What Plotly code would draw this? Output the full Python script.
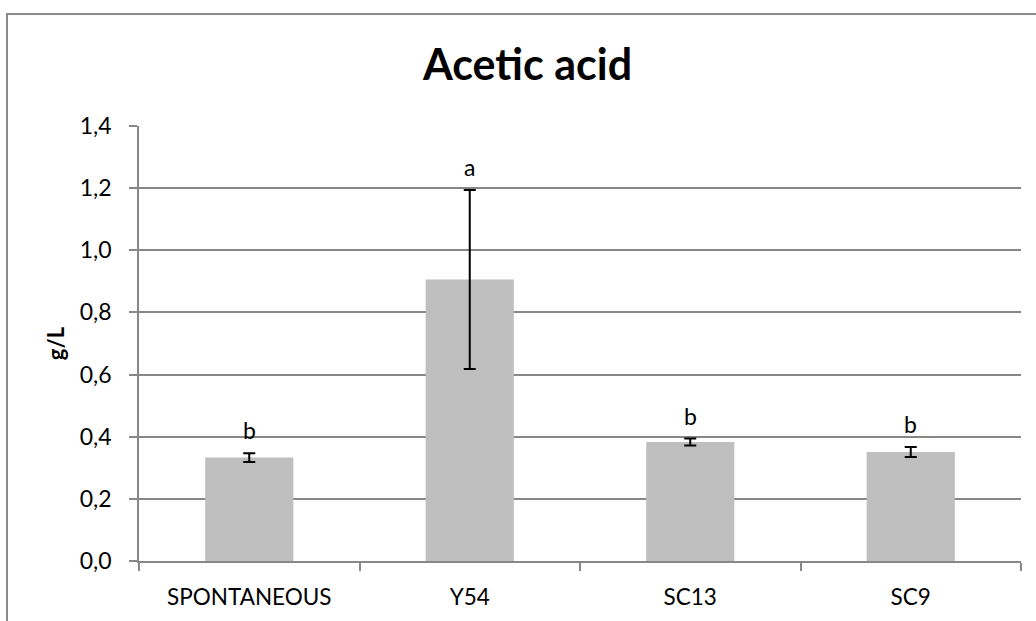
import plotly.graph_objects as go

# Acetic acid concentration per fermentation (g/L), mean ± error, with significance letters
strains = ["SPONTANEOUS", "Y54", "SC13", "SC9"]
acetic_mean = [0.333, 0.906, 0.383, 0.351]
acetic_err = [0.014, 0.288, 0.011, 0.016]
letters = ["b", "a", "b", "b"]
y_ticks = [0.0, 0.2, 0.4, 0.6, 0.8, 1.0, 1.2, 1.4]

W, H = 1036, 621
ML, MR, MT, MB = 139, 15, 126, 60
plot_w = W - ML - MR
plot_h = H - MT - MB
grid_col = "#878787"
font_family = "Lato, 'Open Sans', sans-serif"

fig = go.Figure()
fig.add_trace(go.Bar(
    x=strains,
    y=acetic_mean,
    marker=dict(color="#BFBFBF", line=dict(width=0)),
    width=0.4,
    error_y=dict(type="data", array=acetic_err, visible=True,
                 color="black", thickness=2, width=6),
    hoverinfo="x+y",
))

for s, m, e, lab in zip(strains, acetic_mean, acetic_err, letters):
    fig.add_annotation(x=s, y=m + e, text=lab, showarrow=False,
                       yanchor="bottom", yshift=7,
                       font=dict(size=23, color="black", family=font_family))

# outer chart frame (left and top edges visible, the rest runs past the page)
fig.add_shape(type="rect", xref="paper", yref="paper",
              x0=(7 - ML) / plot_w, x1=1.2,
              y0=-0.3, y1=(H - MB - 14) / plot_h,
              line=dict(color="#8a8a8a", width=2), fillcolor="rgba(0,0,0,0)",
              layer="below")

fig.update_layout(
    width=W, height=H,
    margin=dict(l=ML, r=MR, t=MT, b=MB, pad=0),
    paper_bgcolor="white", plot_bgcolor="white",
    separators=",.",
    showlegend=False,
    bargap=0.6,
    font=dict(family=font_family, color="black", size=22),
    title=dict(text="<b>Acetic acid</b>", x=527.5 / W, xref="container", xanchor="center",
               y=1 - 65 / H, yanchor="middle",
               font=dict(size=43, family=font_family, color="black")),
    xaxis=dict(
        showline=True, linecolor=grid_col, linewidth=1.5,
        ticks="outside", tickson="boundaries", ticklen=8, tickcolor=grid_col,
        tickwidth=1.5, showgrid=False,
        ticklabelstandoff=15,
        tickfont=dict(size=22.5, family=font_family, color="black"),
    ),
    yaxis=dict(
        range=[0, 1.4], tickvals=y_ticks, tickformat=".1f",
        showline=True, linecolor=grid_col, linewidth=1.5,
        ticks="outside", ticklen=8, tickcolor=grid_col, tickwidth=1.5,
        showgrid=True, gridcolor=grid_col, gridwidth=1.5,
        zeroline=False,
        ticklabelstandoff=13,
        tickfont=dict(size=23, family=font_family, color="black"),
        title=dict(text="<b>g/L</b>", standoff=9,
                   font=dict(size=22, family=font_family, color="black")),
    ),
)

fig.write_html("out.html")
